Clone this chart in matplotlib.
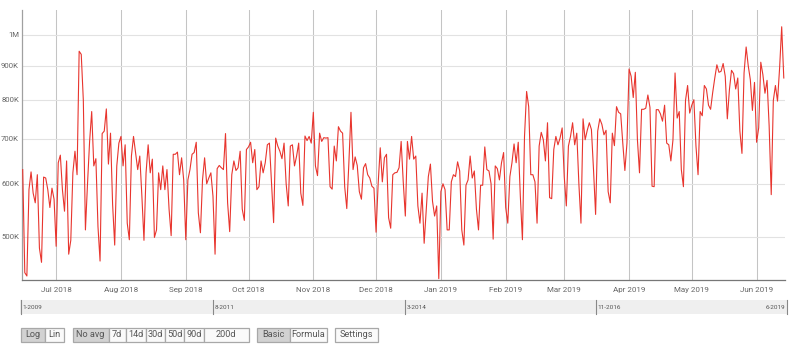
import matplotlib
matplotlib.use('Agg')
import matplotlib.pyplot as plt
import matplotlib.ticker as mticker
import matplotlib.transforms as mtransforms
import pandas as pd
from matplotlib.patches import Rectangle

plt.rcParams['font.family'] = ['Roboto', 'DejaVu Sans']

# ---------------- data (daily values, thousands) ----------------
start_date = '2018-06-15'
vals_jun_aug = [631, 443, 438, 589, 626, 582, 563, 620, 482, 459,
                615, 613, 589, 554, 592, 570, 485, 646, 663, 589,
                547, 650, 472, 495, 624, 672, 620, 947, 937, 800,
                513, 601, 695, 770, 639, 655, 519, 461, 714, 720,
                777, 643, 715, 560, 487, 639, 691, 707, 639, 687,
                525, 496, 661, 707, 668, 631, 661, 576, 495, 624]
vals_aug_oct = [687, 624, 654, 500, 513, 624, 589, 639, 589, 631,
                551, 503, 665, 665, 670, 620, 657, 609, 496, 609,
                631, 665, 669, 693, 544, 508, 609, 657, 601, 613,
                624, 576, 472, 633, 640, 635, 631, 714, 563, 510,
                620, 650, 629, 635, 672, 551, 530, 676, 682, 693,
                646, 676, 589, 595, 650, 624, 646, 687, 691, 601,
                526, 703]
vals_oct_dec = [684, 672, 655, 691, 601, 557, 684, 687, 639, 661,
                691, 582, 558, 708, 697, 707, 691, 768, 639, 618,
                715, 695, 704, 703, 704, 595, 590, 684, 650, 731,
                720, 715, 595, 552, 646, 768, 631, 659, 640, 585,
                570, 635, 644, 620, 613, 596, 592, 509, 601, 680,
                605, 657, 665, 535, 516, 620, 624, 625, 635, 695,
                605]
vals_dec_feb = [538, 695, 654, 707, 654, 661, 557, 525, 582, 490,
                551, 616, 643, 566, 538, 557, 434, 585, 601, 589,
                513, 513, 605, 620, 616, 648, 628, 513, 487, 598,
                609, 661, 613, 628, 551, 513, 598, 598, 682, 631,
                628, 601, 497, 639, 633, 609, 646, 669, 554, 525,
                616, 646, 689, 646, 693, 576, 496, 707, 825, 783,
                620]
vals_feb_apr = [620, 605, 525, 684, 717, 699, 650, 741, 573, 571,
                676, 707, 687, 703, 728, 616, 557, 684, 707, 741,
                687, 715, 601, 525, 751, 699, 722, 741, 724, 631,
                541, 720, 751, 737, 711, 722, 585, 563, 715, 685,
                783, 768, 764, 691, 629, 691, 891, 869, 808, 881,
                699, 624, 776, 776, 779, 815, 781, 596, 595, 775,
                775]
vals_apr_jun = [764, 745, 787, 691, 687, 650, 699, 879, 753, 770,
                631, 595, 800, 842, 766, 787, 802, 684, 620, 770,
                759, 842, 832, 787, 776, 822, 864, 904, 881, 884,
                908, 869, 751, 830, 887, 877, 832, 864, 720, 667,
                879, 961, 901, 859, 773, 851, 693, 728, 912, 874,
                820, 857, 733, 579, 800, 842, 798, 894, 1030, 864]

values_k = (vals_jun_aug + vals_aug_oct + vals_oct_dec +
            vals_dec_feb + vals_feb_apr + vals_apr_jun)
dates = pd.date_range(start_date, periods=len(values_k), freq='D')
values = [v * 1000.0 for v in values_k]

y_ticks = [500000.0, 600000.0, 700000.0, 800000.0, 900000.0, 1000000.0]
y_tick_labels = ['500K', '600K', '700K', '800K', '900K', '1M']
month_ticks = pd.date_range('2018-07-01', '2019-06-01', freq='MS')
month_labels = [d.strftime('%b %Y') for d in month_ticks]
nav_labels = ['1-2009', '8-2011', '3-2014', '11-2016', '6-2019']
button_groups = [['Log', 'Lin'],
                 ['No avg', '7d', '14d', '30d', '50d', '90d', '200d'],
                 ['Basic', 'Formula'],
                 ['Settings']]
selected_buttons = ['Log', 'No avg', 'Basic']

# ---------------- figure ----------------
W, H = 800, 344
fig = plt.figure(figsize=(W / 100, H / 100), dpi=100)
fig.patch.set_facecolor('white')

def px_rect(x0, y0, x1, y1):
    return [x0 / W, 1 - y1 / H, (x1 - x0) / W, (y1 - y0) / H]

ax = fig.add_axes(px_rect(22, 10, 785, 280))
ax.set_facecolor('white')
ax.plot(dates, values, color='#e8352e', lw=0.8, zorder=3)
ax.set_yscale('log')
ax.set_ylim(432000, 1091000)
ax.set_xlim(dates[0] - pd.Timedelta(hours=8), dates[-1] + pd.Timedelta(hours=14))

# y levels: gridline + label drawn explicitly
ax.yaxis.set_major_locator(mticker.NullLocator())
ax.yaxis.set_minor_locator(mticker.NullLocator())
ytrans = mtransforms.blended_transform_factory(ax.transAxes, ax.transData)
for yv, lab in zip(y_ticks, y_tick_labels):
    ax.axhline(yv, color='#e2e2e2', lw=0.8, zorder=1)
    ax.text(-3 / 763, yv, lab, transform=ytrans, ha='right', va='center',
            fontsize=5.6, color='#666666', clip_on=False)

ax.set_xticks(month_ticks, labels=month_labels)
ax.xaxis.set_minor_locator(mticker.NullLocator())
ax.tick_params(axis='x', which='major', length=0, pad=5, labelsize=5.8, labelcolor='#666666')
ax.grid(axis='x', which='major', color='#c4c4c4', lw=0.75, zorder=1)
ax.set_axisbelow(True)

for s in ['top', 'right']:
    ax.spines[s].set_visible(False)
ax.spines['left'].set_color('#a0a0a0')
ax.spines['left'].set_linewidth(0.9)
ax.spines['bottom'].set_color('#777777')
ax.spines['bottom'].set_linewidth(0.9)

# ---------------- overlay for navigator and buttons ----------------
ov = fig.add_axes([0, 0, 1, 1])
ov.set_xlim(0, W)
ov.set_ylim(H, 0)
ov.axis('off')

ov.add_patch(Rectangle((20, 300), 767, 14, facecolor='#efefef', edgecolor='none'))
nav_x = [21, 213, 405, 596, 787]
for i, (nx, lab) in enumerate(zip(nav_x, nav_labels)):
    ov.plot([nx, nx], [300, 314], color='#888888', lw=0.8)
    if i < len(nav_labels) - 1:
        ov.text(nx + 1.5, 307.5, lab, fontsize=4.6, color='#555555', va='center', ha='left')
    else:
        ov.text(nx - 1.5, 307.5, lab, fontsize=4.6, color='#555555', va='center', ha='right')

btn_edges = {
    'Log': (21, 44.5), 'Lin': (44.5, 64),
    'No avg': (72.5, 108.5), '7d': (108.5, 126), '14d': (126, 145.5),
    '30d': (145.5, 165), '50d': (165, 184), '90d': (184, 204),
    '200d': (204, 248.5),
    'Basic': (256.5, 290), 'Formula': (290, 327),
    'Settings': (335, 378),
}
by0, by1 = 327.5, 341.5
for grp in button_groups:
    for name in grp:
        bx0, bx1 = btn_edges[name]
        fc = '#d2d2d2' if name in selected_buttons else '#fafafa'
        ov.add_patch(Rectangle((bx0, by0), bx1 - bx0, by1 - by0,
                               facecolor=fc, edgecolor='#a8a8a8', lw=0.9))
        ov.text((bx0 + bx1) / 2, (by0 + by1) / 2 + 0.3, name, fontsize=6.6,
                color='#555555', ha='center', va='center')

fig.savefig('out.png', dpi=100, facecolor='white')
